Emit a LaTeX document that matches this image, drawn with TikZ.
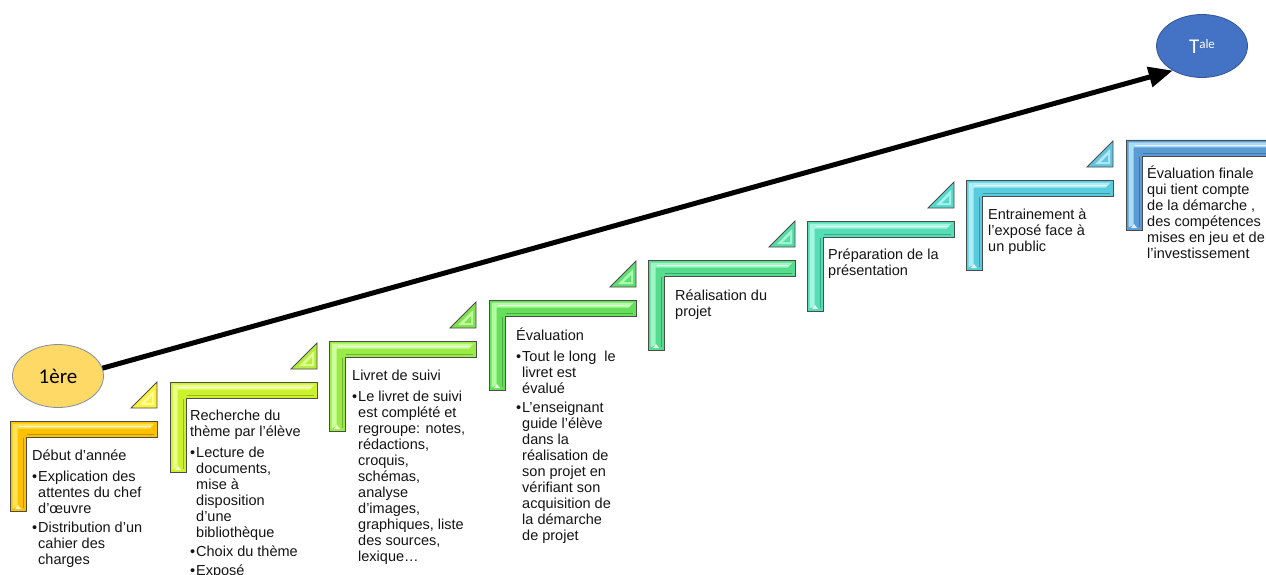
\documentclass[tikz,border=0pt]{standalone}
\usepackage{fontspec}
\setmainfont{Liberation Sans}
\newfontfamily\calib{Carlito}
\usetikzlibrary{arrows.meta,shapes.geometric}
\newcommand\bu{\makebox[6pt][l]{•}}
\newcommand\ind{\hspace*{6pt}}
\newcommand\fst{\rule{0pt}{14pt}}
\newcommand\tfont{\fontsize{14.5}{16}\selectfont\lineskiplimit=-20pt\relax}
% L-shaped bevelled step: x, top, base colour, light colour
\newcommand\Lstep[4]{%
  \fill[#3] (#1,#2) -- ++(147,0) -- ++(0,16) -- ++(-131,0) -- ++(0,74) -- ++(-16,0) -- cycle;
  \fill[#4] (#1+2.5,#2+2.5) -- (#1+144.5,#2+2.5) -- (#1+140,#2+7.5) -- (#1+7.5,#2+7.5) -- (#1+7.5,#2+85) -- (#1+2.5,#2+87.5) -- cycle;
  \draw[white, opacity=.7, line width=.9] (#1+9,#2+5) -- (#1+141,#2+5);
  \draw[#3!75!black, line width=1.2] (#1+17,#2+13.5) -- (#1+144,#2+13.5);
  \draw[#3!75!black, line width=1.2] (#1+13.5,#2+17) -- (#1+13.5,#2+87);
  \fill[white, opacity=.8] (#1+5,#2+88) -- (#1+11,#2+88) -- (#1+8,#2+84) -- cycle;
  \draw[black!70, line width=.8] (#1,#2) -- ++(147,0) -- ++(0,16) -- ++(-131,0) -- ++(0,74) -- ++(-16,0) -- cycle;
}
% bevelled right triangle: right x, step top, base, light
\newcommand\Tri[4]{%
  \fill[#3] (#1-26,#2-13) -- (#1,#2-13) -- (#1,#2-39) -- cycle;
  \fill[#4] (#1-18,#2-16) -- (#1-3,#2-16) -- (#1-3,#2-31) -- cycle;
  \fill[#3] (#1-12,#2-18) -- (#1-5,#2-18) -- (#1-5,#2-25) -- cycle;
  \draw[black!70, line width=.8] (#1-26,#2-13) -- (#1,#2-13) -- (#1,#2-39) -- cycle;
}
\definecolor{sA}{HTML}{FFC000}\definecolor{lA}{HTML}{FFE35A}
\definecolor{sB}{HTML}{CCF22E}\definecolor{lB}{HTML}{EAFF85}
\definecolor{sC}{HTML}{99EC45}\definecolor{lC}{HTML}{CFFF9C}
\definecolor{sD}{HTML}{66E05A}\definecolor{lD}{HTML}{B0FFA0}
\definecolor{sE}{HTML}{55DC8C}\definecolor{lE}{HTML}{A0F5C5}
\definecolor{sF}{HTML}{55DDB5}\definecolor{lF}{HTML}{A5F5E0}
\definecolor{sG}{HTML}{58CCDC}\definecolor{lG}{HTML}{ACEEF5}
\definecolor{sH}{HTML}{5B9BD5}\definecolor{lH}{HTML}{A8DDF5}
\definecolor{tA}{HTML}{FFF03C}\definecolor{tlA}{HTML}{FFFFA0}
\definecolor{tB}{HTML}{B4EE3C}\definecolor{tlB}{HTML}{E0FF99}
\definecolor{tC}{HTML}{80E050}\definecolor{tlC}{HTML}{C0FFA0}
\definecolor{tD}{HTML}{60DC70}\definecolor{tlD}{HTML}{AAFFB5}
\definecolor{tE}{HTML}{55DCA5}\definecolor{tlE}{HTML}{A5F5D5}
\definecolor{tF}{HTML}{55D8CC}\definecolor{tlF}{HTML}{A5F2EE}
\definecolor{tG}{HTML}{62C4DE}\definecolor{tlG}{HTML}{B0E8F5}
\definecolor{ellA}{HTML}{FFD966}\definecolor{ellB}{HTML}{4472C4}
\definecolor{ellAline}{HTML}{7F8FA6}
\begin{document}
\begin{tikzpicture}[x=1pt,y=-1pt,
  txt/.style={font=\tfont, align=left, inner sep=0pt, anchor=north west, text=black!92},
  ell/.style={ellipse, inner sep=0pt, minimum width=91pt, minimum height=63pt, line width=.8pt}]
\path[use as bounding box] (0,0) rectangle (1266,575);
\clip (0,0) rectangle (1266,575);
\fill[white] (0,0) rectangle (1266,575);

\Lstep{10}{421}{sA}{lA}
\Lstep{170}{382}{sB}{lB}
\Lstep{329}{341}{sC}{lC}
\Lstep{489}{300}{sD}{lD}
\Lstep{648}{260}{sE}{lE}
\Lstep{807}{221}{sF}{lF}
\Lstep{966}{180}{sG}{lG}
\Lstep{1126}{140}{sH}{lH}

\Tri{157}{421}{tA}{tlA}
\Tri{317}{382}{tB}{tlB}
\Tri{476}{341}{tC}{tlC}
\Tri{636}{300}{tD}{tlD}
\Tri{795}{260}{tE}{tlE}
\Tri{954}{221}{tF}{tlF}
\Tri{1113}{180}{tG}{tlG}

\node[ell, fill=ellA, draw=ellAline] (one) at (58,376) {\calib\fontsize{21}{21}\selectfont 1ère};
\node[ell, fill=ellB, draw=ellB!75!black] (tale) at (1202,46)
  {\color{white}\calib\fontsize{21}{21}\selectfont T\raisebox{5pt}{\fontsize{13}{13}\selectfont ale}};
\draw[line width=5pt, -{Triangle[length=24pt,width=20pt]}] (one.10) -- (tale.220);

\node[txt] (t1) at (32,446) {\fst Début d’année\\[5pt]
\bu Explication des\\ \ind attentes du chef\\ \ind d’œuvre\\[3pt]
\bu Distribution d’un\\ \ind cahier des\\ \ind charges};

\node[txt] (t2) at (190,406) {\fst Recherche du\\ thème par l’élève\\[5pt]
\bu Lecture de\\ \ind documents,\\ \ind mise à\\ \ind disposition\\ \ind d’une\\ \ind bibliothèque\\[3pt]
\bu Choix du thème\\[3pt]
\bu Exposé};

\node[txt] (t3) at (352,366) {\fst Livret de suivi\\[5pt]
\bu Le livret de suivi\\ \ind est complété et\\ \ind regroupe: notes,\\ \ind rédactions,\\ \ind croquis,\\ \ind schémas,\\ \ind analyse\\ \ind d’images,\\ \ind graphiques, liste\\ \ind des sources,\\ \ind lexique…};

\node[txt] (t4) at (516,326) {\fst Évaluation\\[5pt]
\bu Tout le long \ le\\ \ind livret est\\ \ind évalué\\[3pt]
\bu L’enseignant\\ \ind guide l’élève\\ \ind dans la\\ \ind réalisation de\\ \ind son projet en\\ \ind vérifiant son\\ \ind acquisition de\\ \ind la démarche\\ \ind de projet};

\node[txt] (t5) at (675,286) {\fst Réalisation du\\ projet};
\node[txt] (t6) at (828,245) {\fst Préparation de la\\ présentation};
\node[txt] (t7) at (988,205) {\fst Entrainement à\\ l’exposé face à\\ un public};
\node[txt] (t8) at (1147,164) {\fst Évaluation finale\\ qui tient compte\\ de la démarche ,\\ des compétences\\ mises en jeu et de\\ l’investissement};
\end{tikzpicture}
\end{document}
